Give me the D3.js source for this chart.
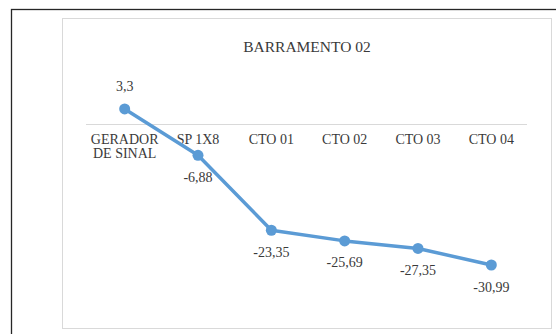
<!DOCTYPE html>
<html><head><meta charset="utf-8">
<script src="https://cdn.jsdelivr.net/npm/d3@7"></script>
<style>html,body{margin:0;padding:0;background:#fff;}svg{display:block;}</style>
</head><body>
<svg id="c" width="556" height="334"></svg>
<script>
const categories = [["GERADOR","DE SINAL"],["SP 1X8"],["CTO 01"],["CTO 02"],["CTO 03"],["CTO 04"]];
const values = [3.3, -6.88, -23.35, -25.69, -27.35, -30.99];
const labels = ["3,3", "-6,88", "-23,35", "-25,69", "-27,35", "-30,99"];
const title = "BARRAMENTO 02";

const svg = d3.select("#c");
const font = "'Liberation Serif','Times New Roman',serif";

// outer frame
svg.append("rect").attr("x",11.5).attr("y",9.5).attr("width",600).attr("height",400)
  .attr("fill","none").attr("stroke","#262626").attr("stroke-width",1.3);
// chart area border
svg.append("rect").attr("x",62.5).attr("y",18.5).attr("width",489).attr("height",310)
  .attr("fill","#fff").attr("stroke","#d9d9d9").attr("stroke-width",1);

svg.append("text").attr("x",307).attr("y",46).attr("text-anchor","middle")
  .attr("dominant-baseline","central").attr("font-family",font).attr("font-size",15.5)
  .attr("fill","#3a3a3a").text(title);

const idx = d3.range(values.length);
const x = d3.scaleBand().domain(idx).range([88,528]);
const y = d3.scaleLinear().domain([-35,5]).range([283.25,101.25]);

// category axis at zero
const ax = svg.append("g").attr("transform",`translate(0,${y(0)})`)
  .call(d3.axisBottom(x).tickSize(0).tickFormat(""));
ax.select(".domain").attr("stroke","#d9d9d9").attr("stroke-width",1)
  .attr("d",`M86,0.5H527`);
ax.selectAll(".tick").each(function(d){
  const t = d3.select(this).append("text").attr("fill","#3a3a3a")
    .attr("font-family",font).attr("font-size",14).attr("text-anchor","middle");
  categories[d].forEach((s,i)=>{
    t.append("tspan").attr("x",0).attr("y",20+i*14).text(s);
  });
});

const cx = i => x(i)+x.bandwidth()/2;
svg.append("path").datum(idx)
  .attr("d", d3.line().x(cx).y(i=>y(values[i])))
  .attr("fill","none").attr("stroke","#5b9bd5").attr("stroke-width",3.5)
  .attr("stroke-linejoin","round");
svg.selectAll("circle.pt").data(idx).join("circle").attr("class","pt")
  .attr("cx",cx).attr("cy",i=>y(values[i])).attr("r",5.5).attr("fill","#5b9bd5");
svg.selectAll("text.lbl").data(idx).join("text").attr("class","lbl")
  .attr("x",cx).attr("y",i=>y(values[i]) + (values[i]>=0?-22:22))
  .attr("text-anchor","middle").attr("dominant-baseline","central")
  .attr("font-family",font).attr("font-size",14).attr("fill","#3a3a3a")
  .text(i=>labels[i]);
</script>
</body></html>
